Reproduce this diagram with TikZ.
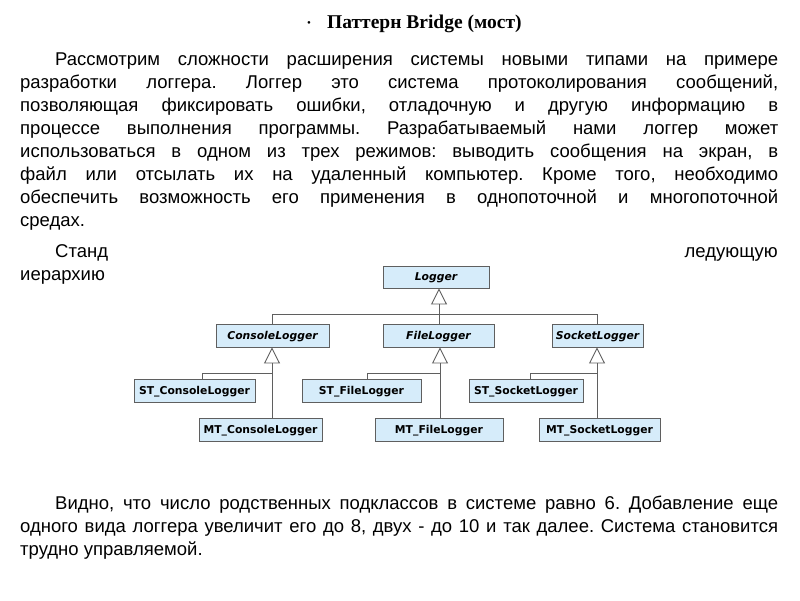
\documentclass[tikz,border=0pt]{standalone}
\usepackage{fontspec}
\setmainfont{Liberation Serif}
\newfontfamily\arialfnt{Liberation Sans}
\newfontfamily\umlfnt{DejaVu Sans}
\usepackage{tikz}
\usetikzlibrary{arrows.meta}
\definecolor{clasefondo}{RGB}{214,236,250}
\definecolor{claseborde}{RGB}{95,95,95}
\frenchspacing

\begin{document}
\begin{tikzpicture}[x=1pt, y=-1pt,
    texto/.style={anchor=base west, inner sep=0pt, font=\arialfnt\fontsize{18.5}{23}\selectfont},
    clase/.style={draw=claseborde, fill=clasefondo, line width=0.9pt, inner sep=0pt,
      minimum height=23pt, text height=7.7pt, text depth=0pt,
      font=\umlfnt\bfseries\fontsize{10.8}{12}\selectfont},
    abstracta/.style={clase, font=\umlfnt\bfseries\itshape\fontsize{10.8}{12}\selectfont},
    enlace/.style={draw=claseborde, line width=0.9pt},
    herencia/.style={enlace, -{Triangle[open, width=16pt, length=16pt]}}]
    \useasboundingbox (0,0) rectangle (800,600);
    % titulo
    \node[anchor=base, inner sep=0pt, font=\fontsize{11}{12}\selectfont] (vineta) at (309,26) {•};
    \node[anchor=base west, inner sep=0pt, font=\bfseries\fontsize{19.5}{22}\selectfont] (titulo) at (327,28) {Паттерн Bridge (мост)};
    % primer parrafo
    \node[texto] (p1) at (55,65) {\makebox[723pt][s]{Рассмотрим сложности расширения системы новыми типами на примере}};
    \node[texto] (p2) at (20,88) {\makebox[758pt][s]{разработки логгера. Логгер это система протоколирования сообщений,}};
    \node[texto] (p3) at (20,111) {\makebox[758pt][s]{позволяющая фиксировать ошибки, отладочную и другую информацию в}};
    \node[texto] (p4) at (20,134) {\makebox[758pt][s]{процессе выполнения программы. Разрабатываемый нами логгер может}};
    \node[texto] (p5) at (20,157) {\makebox[758pt][s]{использоваться в одном из трех режимов: выводить сообщения на экран, в}};
    \node[texto] (p6) at (20,180) {\makebox[758pt][s]{файл или отсылать их на удаленный компьютер. Кроме того, необходимо}};
    \node[texto] (p7) at (20,203) {\makebox[758pt][s]{обеспечить возможность его применения в однопоточной и многопоточной}};
    \node[texto] (p8) at (20,226) {средах.};
    % segundo parrafo (tapado por el diagrama)
    \node[texto] (p9) at (55,257) {Станд};
    \node[texto, anchor=base east] (p9b) at (778,257) {ледующую};
    \node[texto] (p10) at (20,280) {иерархию};
    % tercer parrafo
    \node[texto] (p11) at (55,509) {\makebox[723pt][s]{Видно, что число родственных подклассов в системе равно 6. Добавление еще}};
    \node[texto] (p12) at (20,532) {\makebox[758pt][s]{одного вида логгера увеличит его до 8, двух - до 10 и так далее. Система становится}};
    \node[texto] (p13) at (20,555) {трудно управляемой.};
    % clases
    \node[abstracta, minimum width=106pt, minimum height=22pt] (logger) at (436,277) {Logger};
    \node[abstracta, minimum width=113pt] (console) at (272.5,335.5) {ConsoleLogger};
    \node[abstracta, minimum width=111pt] (file) at (438.5,335.5) {FileLogger};
    \node[abstracta, minimum width=91pt] (socket) at (597.5,335.5) {SocketLogger};
    \node[clase, minimum width=121pt] (stconsole) at (194.5,390.5) {ST\_ConsoleLogger};
    \node[clase, minimum width=123pt] (mtconsole) at (260.5,429.5) {MT\_ConsoleLogger};
    \node[clase, minimum width=119pt] (stfile) at (361.5,390.5) {ST\_FileLogger};
    \node[clase, minimum width=128pt] (mtfile) at (439,429.5) {MT\_FileLogger};
    \node[clase, minimum width=114pt] (stsocket) at (526,390.5) {ST\_SocketLogger};
    \node[clase, minimum width=121pt] (mtsocket) at (599.5,429.5) {MT\_SocketLogger};
    % herencia desde Logger
    \coordinate (lbar) at (439,314);
    \draw[enlace] (console.north) |- (socket.north |- lbar) -- (socket.north);
    \draw[enlace] (file.north -| lbar) -- (lbar);
    \draw[herencia] (lbar) -- (logger.south -| lbar);
    % herencia de segundo nivel
    \coordinate (cbar) at (272,373);
    \coordinate (fbar) at (440,373);
    \coordinate (sbar) at (597,373);
    \draw[enlace] ([xshift=8pt]stconsole.north) |- (cbar);
    \draw[enlace] (mtconsole.north -| cbar) -- (cbar);
    \draw[herencia] (cbar) -- (console.south -| cbar);
    \draw[enlace] ([xshift=6pt]stfile.north) |- (fbar);
    \draw[enlace] (mtfile.north -| fbar) -- (fbar);
    \draw[herencia] (fbar) -- (file.south -| fbar);
    \draw[enlace] ([xshift=4pt]stsocket.north) |- (sbar);
    \draw[enlace] (mtsocket.north -| sbar) -- (sbar);
    \draw[herencia] (sbar) -- (socket.south -| sbar);
\end{tikzpicture}
\end{document}
